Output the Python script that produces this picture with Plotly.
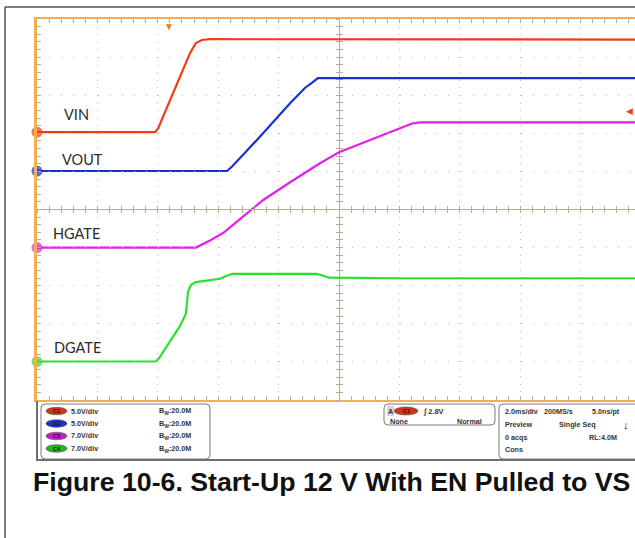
import plotly.graph_objects as go

W, H = 635, 538

# scope screen: 2.0 ms/div horizontally, 10 divisions vertically
T_RANGE = [-4.37, 15.43]      # ms visible on the screen (0 = trigger)
DIV_RANGE = [-5, 5]

CHANNELS = ["VIN", "VOUT", "HGATE", "DGATE"]
VOLTS_PER_DIV = [5.0, 5.0, 7.0, 7.0]
OFFSET_DIV = [2.03, 1.01, -1.0, -3.99]
COLORS = ["#f23a14", "#1630d6", "#e61ee6", "#2ee02e"]
LABEL_POS = [(-3.55, 2.50), (-3.62, 1.32), (-3.91, -0.63), (-3.88, -3.63)]

# waveforms: time (ms), voltage (V)
VIN_T = [-4.37, -0.46, -0.36, 0.20, 0.70, 0.89, 1.09, 1.36, 15.43]
VIN_V = [0.0, 0.0, 0.5, 5.8, 10.4, 11.7, 12.1, 12.2, 12.15]

VOUT_T = [-4.37, 1.92, 2.09, 3.01, 4.01, 4.50, 4.74, 4.93, 15.43]
VOUT_V = [0.0, 0.0, 0.6, 4.5, 8.9, 10.9, 11.6, 12.2, 12.2]

HGATE_T = [-4.37, 0.89, 1.36, 1.82, 2.45, 3.11, 4.01, 5.00, 5.63, 6.66, 7.81, 8.05, 8.31, 15.43]
HGATE_V = [0.0, 0.0, 1.3, 2.8, 5.7, 8.7, 12.0, 15.5, 17.5, 19.7, 22.3, 22.8, 23.0, 23.0]

DGATE_T = [-4.37, -0.46, -0.33, 0.03, 0.36, 0.56, 0.60, 0.63, 0.73, 0.89, 1.19, 1.69,
           1.89, 2.09, 4.34, 4.90, 5.10, 5.30, 7.65, 15.43]
DGATE_V = [0.0, 0.0, 0.6, 3.8, 6.5, 8.8, 11.1, 12.8, 14.1, 14.6, 14.8, 15.2,
           15.7, 16.1, 16.1, 16.1, 15.75, 15.4, 15.3, 15.3]

WAVES = [(VIN_T, VIN_V), (VOUT_T, VOUT_V), (HGATE_T, HGATE_V), (DGATE_T, DGATE_V)]
TRIG_LEVEL = 2.8

ORANGE = "#f4b04e"; GRIDC = "#bdbdbd"; CROSS = "#b5ab98"; TICKC = "#b9ad95"
TXT = "#2b2b2b"; PANEL = "#333333"

def px(x): return x / W
def py(y): return 1 - y / H

fig = go.Figure()

# graticule axes
ax_common = dict(showticklabels=False, zeroline=False, fixedrange=True)
layout = dict(
    xaxis=dict(domain=[px(37), 1], range=T_RANGE, dtick=2, tick0=T_RANGE[0], showgrid=True,
               gridcolor=GRIDC, griddash="1px,6.6px", gridwidth=1, showline=True, linecolor=ORANGE,
               linewidth=2, mirror="ticks", ticks="inside", ticklen=4, tickcolor=TICKC,
               minor=dict(dtick=0.4, tick0=T_RANGE[0], ticks="inside", ticklen=4, tickcolor=TICKC, showgrid=False),
               **ax_common),
    yaxis=dict(domain=[py(400), py(19)], range=DIV_RANGE, dtick=1, tick0=0, showgrid=True,
               gridcolor=GRIDC, griddash="1px,11.1px", gridwidth=1, showline=True, linecolor=ORANGE,
               linewidth=3, ticks="inside", ticklen=4, tickcolor=TICKC,
               minor=dict(dtick=0.2, tick0=0, ticks="inside", ticklen=4, tickcolor=TICKC, showgrid=False),
               **ax_common),
)
# centre crosshair with ticks on both sides
for name, side_ticks in (("xaxis2", "inside"), ("xaxis3", "outside")):
    layout[name] = dict(overlaying="x", anchor="free", position=py(209), range=T_RANGE, dtick=2,
                        tick0=T_RANGE[0], showgrid=False, showline=True, linecolor=CROSS, linewidth=1,
                        ticks=side_ticks, ticklen=3, tickcolor=CROSS,
                        minor=dict(dtick=0.4, tick0=T_RANGE[0], ticks=side_ticks, ticklen=3, tickcolor=CROSS),
                        **ax_common)
for name, side_ticks in (("yaxis2", "inside"), ("yaxis3", "outside")):
    layout[name] = dict(overlaying="y", anchor="free", position=px(339), range=DIV_RANGE, dtick=1,
                        tick0=0, showgrid=False, showline=True, linecolor=CROSS, linewidth=1,
                        ticks=side_ticks, ticklen=3, tickcolor=CROSS,
                        minor=dict(dtick=0.2, tick0=0, ticks=side_ticks, ticklen=3, tickcolor=CROSS),
                        **ax_common)
for xa, ya in (("x2", "y"), ("x3", "y"), ("x", "y2"), ("x", "y3")):
    fig.add_trace(go.Scatter(x=[None], y=[None], xaxis=xa, yaxis=ya, showlegend=False, hoverinfo="skip"))

# one volts axis per channel, placed by its V/div and offset like the scope does
for i, (name, vdiv, off, col, (t, v)) in enumerate(zip(CHANNELS, VOLTS_PER_DIV, OFFSET_DIV, COLORS, WAVES)):
    yname = f"yaxis{i + 4}"
    layout[yname] = dict(overlaying="y", anchor="x", range=[(DIV_RANGE[0] - off) * vdiv, (DIV_RANGE[1] - off) * vdiv],
                         showgrid=False, showline=False, ticks="", visible=False, **ax_common)
    yref = f"y{i + 4}"
    fig.add_trace(go.Scatter(x=t, y=v, yaxis=yref, mode="lines", line=dict(color=col, width=2.2),
                             showlegend=False, name=name))
    # ground marker at the left edge
    fig.add_trace(go.Scatter(x=[T_RANGE[0], T_RANGE[0]], y=[0, 0], yaxis=yref, mode="markers",
                             marker=dict(symbol=["circle", "triangle-right"], size=[11, 6], color=col,
                                         line=dict(width=0)),
                             cliponaxis=False, showlegend=False, hoverinfo="skip"))
    fig.add_annotation(x=LABEL_POS[i][0], y=LABEL_POS[i][1], xref="x", yref="y", text=name,
                       showarrow=False, xanchor="left", yanchor="middle",
                       font=dict(family="Lato, Open Sans, sans-serif", size=14.5, color=TXT))

# trigger position and level markers
fig.add_annotation(x=0, y=DIV_RANGE[1], xref="x", yref="y", text="▼", showarrow=False,
                   yanchor="top", yshift=2, font=dict(size=10, color="#f07818"))
fig.add_annotation(x=T_RANGE[1], y=TRIG_LEVEL, xref="x", yref="y4", text="◀", showarrow=False,
                   xanchor="right", xshift=0, font=dict(size=9, color="#f04010"))

# ---------- info panel under the screen ----------
def rrect(x0, y0, x1, y1, r=4):
    rx, ry = r / W, r / H
    a0, a1, b0, b1 = px(x0), px(x1), py(y1), py(y0)
    return (f"M{a0+rx},{b1} L{a1-rx},{b1} Q{a1},{b1} {a1},{b1-ry} L{a1},{b0+ry} Q{a1},{b0} {a1-rx},{b0} "
            f"L{a0+rx},{b0} Q{a0},{b0} {a0},{b0+ry} L{a0},{b1-ry} Q{a0},{b1} {a0+rx},{b1} Z")

shapes = []
for box in ((41, 404, 210, 459), (384, 404, 495, 425), (499, 404, 660, 459)):
    shapes.append(dict(type="path", path=rrect(*box), xref="paper", yref="paper",
                       line=dict(color="#7a7a7a", width=1), fillcolor="white", layer="above"))
shapes.append(dict(type="line", xref="paper", yref="paper", x0=px(37), x1=1, y0=py(460), y1=py(460),
                   line=dict(color="#6e6e6e", width=2)))
shapes.append(dict(type="line", xref="paper", yref="paper", x0=px(37), x1=px(37), y0=py(401), y1=py(461),
                   line=dict(color="#6e6e6e", width=2)))
# outer page frame
shapes.append(dict(type="line", xref="paper", yref="paper", x0=px(5), x1=px(5), y0=0, y1=py(7),
                   line=dict(color="#555555", width=1.5)))
shapes.append(dict(type="line", xref="paper", yref="paper", x0=px(5), x1=1, y0=py(7), y1=py(7),
                   line=dict(color="#555555", width=1.5)))

PANEL_SCALE = ["5.0V/div", "5.0V/div", "7.0V/div", "7.0V/div"]
PANEL_BW = ["B<sub>W</sub>:20.0M"] * 4
BADGE = ["#d23418", "#1f32c8", "#c51fc5", "#1fb81f"]
ROWS = [411, 423.5, 436, 448.5]
pf = dict(family="Liberation Sans, Arial, sans-serif", size=7.2, color=PANEL)

def ptext(x, y, s, anchor="left", **kw):
    f = dict(pf); f.update(kw)
    fig.add_annotation(x=px(x), y=py(y), xref="paper", yref="paper", text=f"<b>{s}</b>",
                       showarrow=False, xanchor=anchor, yanchor="middle", font=f)

for i, y in enumerate(ROWS):
    shapes.append(dict(type="circle", xref="paper", yref="paper", x0=px(46), x1=px(67),
                       y0=py(y + 3.8), y1=py(y - 3.8), fillcolor=BADGE[i], line=dict(color="#555", width=0.6)))
    ptext(56.5, y, f"C{i + 1}", anchor="center", size=5.5, color="#3a0a0a" if i == 0 else "#111")
    ptext(69, y, PANEL_SCALE[i])
    ptext(157, y, PANEL_BW[i])

# trigger box
shapes.append(dict(type="rect", xref="paper", yref="paper", x0=px(387), x1=px(394), y0=py(416), y1=py(406),
                   fillcolor="#d6d6d6", line=dict(width=0)))
ptext(390.5, 411, "A", anchor="center")
shapes.append(dict(type="circle", xref="paper", yref="paper", x0=px(394), x1=px(418),
                   y0=py(415), y1=py(407), fillcolor=BADGE[0], line=dict(color="#555", width=0.6)))
ptext(406, 411, "C1", anchor="center", size=5.5, color="#3a0a0a")
ptext(421, 411, "∫ 2.8V", size=7.5)
ptext(388, 421.5, "None")
ptext(484, 421.5, "Normal", anchor="right")

# acquisition box
ptext(503, 411, "2.0ms/div")
ptext(542, 411, "200MS/s")
ptext(590, 411, "5.0ns/pt")
ptext(503, 424, "Preview")
ptext(557, 424, "Single Seq")
ptext(626, 425, "↓", anchor="center", size=11, color="#111")
ptext(503, 437, "0 acqs")
ptext(587, 437, "RL:4.0M")
ptext(503, 449, "Cons")

# caption
fig.add_annotation(x=px(31), y=py(482), xref="paper", yref="paper",
                   text="<b>Figure 10-6. Start-Up 12 V With EN Pulled to VS</b>", showarrow=False,
                   xanchor="left", yanchor="middle",
                   font=dict(family="Liberation Sans, Arial, sans-serif", size=26.7, color="#111"))

fig.update_layout(width=W, height=H, autosize=False, margin=dict(l=0, r=0, t=0, b=0),
                  paper_bgcolor="white", plot_bgcolor="rgba(0,0,0,0)", showlegend=False, shapes=shapes,
                  **layout)

fig.write_html("out.html", config={"displayModeBar": False},
               post_script="document.body.style.margin='0';")
